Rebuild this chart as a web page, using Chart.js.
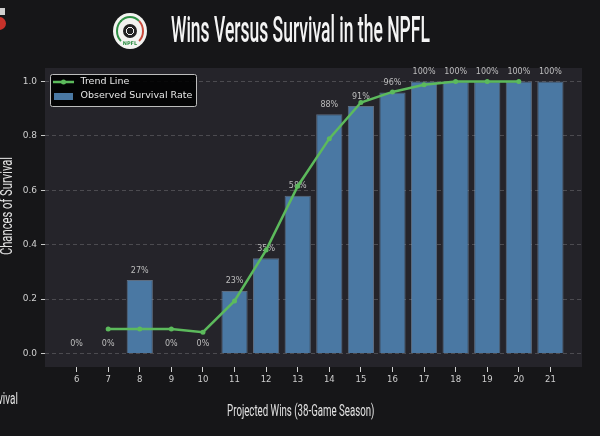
<!DOCTYPE html>
<html>
<head>
<meta charset="utf-8">
<script src="https://cdn.jsdelivr.net/npm/chart.js@4"></script>
<style>
  html, body { margin: 0; padding: 0; background: #161618; }
  #wrap { position: relative; width: 600px; height: 436px; overflow: hidden; background: #161618; }
  #chart { position: absolute; left: 0; top: 0; }
  .txt { position: absolute; font-family: Roboto, "Liberation Sans", sans-serif; color: #f4f4f4;
         white-space: nowrap; line-height: 1; }
  #logo { position: absolute; left: 113px; top: 13px; width: 34px; height: 36px; border-radius: 50%;
          background: #f3f3f0; }
  #logo .ring { position: absolute; left: 3px; top: 3px; width: 24px; height: 26px; border-radius: 50%;
                border: 2px solid #2f8f45; border-right-color: #c94a3c; border-bottom-color: transparent; }
  #logo .ball { position: absolute; left: 10px; top: 11px; width: 14px; height: 14px; border-radius: 50%;
                background: radial-gradient(circle at 50% 50%, #222 0 3px, #eee 3px 4px, #222 4px 100%); }
  #logo .name { position: absolute; left: 0; width: 34px; top: 27px; text-align: center;
                font: bold 5px "DejaVu Sans"; color: #2f8f45; }
  #corner1 { position: absolute; left: 0; top: 8px; width: 5px; height: 7px; background: #cfcfcf; }
  #corner2 { position: absolute; left: -7px; top: 17px; width: 13px; height: 13px; border-radius: 50%; background: #c7322a; }
</style>
</head>
<body>
<div id="wrap">
  <canvas id="chart" width="600" height="436"></canvas>
  <div id="corner1"></div>
  <div id="corner2"></div>
  <div id="logo"><div class="ring"></div><div class="ball"></div><div class="name">NPFL</div></div>
  <div class="txt" id="title" style="font-size:37px; font-weight:500; top:11px;">Wins Versus Survival in the NPFL</div>
  <div class="txt" id="xTitle" style="font-size:16px; top:403px; color:#e2e2e2;">Projected Wins (38-Game Season)</div>
  <div class="txt" id="yTitle" style="font-size:16px; color:#e2e2e2;">Chances of Survival</div>
  <div class="txt" id="stray" style="font-size:16px; top:391px; color:#e2e2e2;"><span>Sur</span><span id="strayTail">vival</span></div>
</div>
<script>
// data
const wins = [6, 7, 8, 9, 10, 11, 12, 13, 14, 15, 16, 17, 18, 19, 20, 21];
const survival = [0, 0, 0.27, 0, 0, 0.23, 0.35, 0.58, 0.88, 0.91, 0.96, 1, 1, 1, 1, 1];
const trendWins = [7, 8, 9, 10, 11, 12, 13, 14, 15, 16, 17, 18, 19, 20];
const trendValues = [0.09, 0.09, 0.09, 0.078, 0.193, 0.38, 0.615, 0.79, 0.923, 0.962, 0.988, 1, 1, 1];
const yTicks = [0, 0.2, 0.4, 0.6, 0.8, 1.0];

// squeeze the headline texts into a condensed look
function squeeze(id, width, centerX) {
  const el = document.getElementById(id);
  const w = el.offsetWidth;
  el.style.left = (centerX - w / 2) + 'px';
  el.style.transform = 'scaleX(' + (width / w) + ')';
  return width / w;
}
squeeze('title', 259, 300);
squeeze('xTitle', 147, 300.5);

// cut-off caption at the lower left: only "vival" is visible
const stray = document.getElementById('stray');
const tail = document.getElementById('strayTail');
const ts = 20 / tail.offsetWidth;
stray.style.transformOrigin = '0 50%';
stray.style.left = (-tail.offsetLeft * ts - 2) + 'px';
stray.style.transform = 'scaleX(' + ts + ')';

const yt = document.getElementById('yTitle');
const yw = yt.offsetWidth;
yt.style.left = (6.5 - yw / 2) + 'px';
yt.style.top = (206 - 8) + 'px';
yt.style.transform = 'rotate(-90deg) scaleX(' + (98 / yw) + ')';

const plotBg = {
  id: 'plotBg',
  beforeDraw(chart) {
    const { ctx, chartArea: a } = chart;
    ctx.save();
    ctx.fillStyle = '#25242a';
    ctx.fillRect(a.left, a.top, a.right - a.left, a.bottom - a.top);
    ctx.restore();
  }
};

const barLabels = {
  id: 'barLabels',
  beforeDatasetsDraw(chart) {
    const meta = chart.getDatasetMeta(1);
    const ctx = chart.ctx;
    ctx.save();
    ctx.font = '8px "DejaVu Sans"';
    ctx.fillStyle = '#bdbdbd';
    ctx.textAlign = 'center';
    ctx.textBaseline = 'middle';
    meta.data.forEach((bar, i) => {
      ctx.fillText(Math.round(survival[i] * 100) + '%', bar.x, bar.y - 9.5);
    });
    ctx.restore();
  }
};

const boxLegend = {
  id: 'boxLegend',
  afterDraw(chart) {
    const { ctx, chartArea } = chart;
    const ds = chart.data.datasets;
    const x = chartArea.left + 5, y = chartArea.top + 6, w = 146, h = 32;
    ctx.save();
    ctx.fillStyle = 'rgba(0,0,0,0.88)';
    ctx.strokeStyle = '#bdbdbd';
    ctx.lineWidth = 1;
    ctx.beginPath();
    ctx.roundRect(x + 0.5, y + 0.5, w, h, 2);
    ctx.fill();
    ctx.stroke();
    // line entry
    ctx.strokeStyle = ds[0].borderColor;
    ctx.lineWidth = 2.5;
    ctx.beginPath();
    ctx.moveTo(x + 3, y + 8);
    ctx.lineTo(x + 24, y + 8);
    ctx.stroke();
    ctx.fillStyle = ds[0].borderColor;
    ctx.beginPath();
    ctx.arc(x + 13.5, y + 8, 2.5, 0, Math.PI * 2);
    ctx.fill();
    // bar entry
    ctx.fillStyle = ds[1].backgroundColor;
    ctx.fillRect(x + 4, y + 19, 19, 7);
    ctx.font = '9.5px "DejaVu Sans"';
    ctx.fillStyle = '#e6e6e6';
    ctx.textBaseline = 'middle';
    ctx.fillText(ds[0].label, x + 30.5, y + 8);
    ctx.fillText(ds[1].label, x + 30.5, y + 22);
    ctx.restore();
  }
};

new Chart(document.getElementById('chart'), {
  type: 'bar',
  data: {
    datasets: [
      {
        type: 'line',
        label: 'Trend Line',
        data: trendWins.map((w, i) => ({ x: w, y: trendValues[i] })),
        borderColor: '#5cba5c',
        backgroundColor: '#5cba5c',
        borderWidth: 2.5,
        pointRadius: 2.5,
        pointBorderWidth: 0,
        tension: 0,
        order: 0
      },
      {
        label: 'Observed Survival Rate',
        data: wins.map((w, i) => ({ x: w, y: survival[i] })),
        backgroundColor: '#4a78a3',
        borderColor: 'rgba(140,170,200,0.55)',
        borderWidth: 1,
        categoryPercentage: 0.83,
        barPercentage: 1,
        order: 1
      }
    ]
  },
  options: {
    responsive: false,
    animation: false,
    devicePixelRatio: 1,
    layout: { padding: { left: 0, top: 68, right: 18, bottom: 0 } },
    plugins: { legend: { display: false }, tooltip: { enabled: false } },
    scales: {
      x: {
        type: 'linear',
        min: 5,
        max: 22,
        offset: false,
        afterBuildTicks: (scale) => { scale.ticks = wins.map(v => ({ value: v })); },
        afterFit: (scale) => { scale.height = 69; },
        grid: { offset: false, drawOnChartArea: false, drawTicks: true, tickLength: 5, tickColor: '#cfcfcf', tickWidth: 1 },
        border: { display: false },
        ticks: { color: '#cfcfcf', font: { family: 'DejaVu Sans', size: 8.5 }, padding: 3, maxRotation: 0 }
      },
      y: {
        min: -0.05,
        max: 1.05,
        z: 1,
        afterBuildTicks: (scale) => { scale.ticks = yTicks.map(v => ({ value: v })); },
        afterFit: (scale) => { scale.width = 45; },
        grid: { color: 'rgba(190,190,190,0.33)', lineWidth: 0.8, tickLength: 4, tickColor: '#c8c8c8', tickWidth: 1 },
        border: { display: false, dash: [4, 3] },
        ticks: {
          color: '#cfcfcf',
          font: { family: 'DejaVu Sans', size: 9 },
          padding: 4,
          callback: (v) => Number(v).toFixed(1)
        }
      }
    }
  },
  plugins: [plotBg, barLabels, boxLegend]
});
</script>
</body>
</html>
